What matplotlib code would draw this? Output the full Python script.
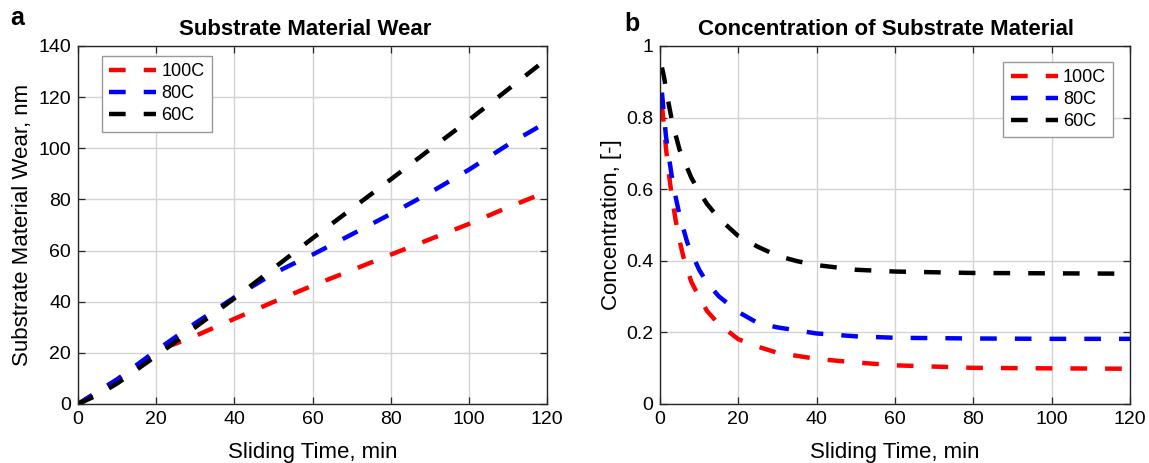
import matplotlib
matplotlib.use("Agg")
import matplotlib.pyplot as plt

plt.rcParams['font.family'] = ['Liberation Sans', 'DejaVu Sans']
plt.rcParams['lines.scale_dashes'] = False

# ---- Panel a: Substrate material wear ----
wear_t_100 = [0, 10, 20, 22, 25, 30, 34, 40, 50, 60, 70, 80, 90, 100, 110, 120]
wear_100 = [0, 9.6, 20.3, 22.0, 23.6, 26.6, 29.3, 33.3, 39.9, 46.3, 52.3, 58.4, 64.4, 70.4, 76.9, 83.0]
wear_t_80 = [0, 10, 20, 30, 40, 50, 57, 60, 70, 80, 90, 100, 110, 120]
wear_80 = [0, 9.6, 20.9, 31.6, 41.7, 51.0, 56.3, 58.4, 66.3, 74.3, 82.6, 91.6, 101.4, 110.3]
wear_t_60 = [0, 5, 10, 20, 30, 40, 50, 60, 70, 80, 90, 100, 110, 120]
wear_60 = [0, 3.5, 8.0, 18.8, 30.0, 41.3, 53.0, 64.8, 76.3, 87.8, 99.5, 111.0, 123.0, 135.0]

# ---- Panel b: Concentration of substrate material ----
conc_t_100 = [0.5, 1, 1.5, 2, 3, 4, 5, 6, 8, 10, 12, 15, 20, 25, 30, 40, 50, 60, 80, 100, 120]
conc_100 = [0.835, 0.778, 0.718, 0.666, 0.581, 0.513, 0.456, 0.41, 0.341, 0.299, 0.26, 0.223,
            0.181, 0.16, 0.143, 0.126, 0.116, 0.108, 0.101, 0.0995, 0.0985]
conc_t_80 = [0.5, 1, 1.5, 2, 3, 4, 5, 6, 7, 8, 10, 12, 15, 20, 25, 30, 40, 50, 60, 80, 100, 120]
conc_80 = [0.87, 0.81, 0.75, 0.71, 0.637, 0.578, 0.527, 0.488, 0.45, 0.423, 0.375, 0.339, 0.301,
           0.257, 0.226, 0.214, 0.197, 0.189, 0.185, 0.183, 0.182, 0.182]
conc_t_60 = [0.5, 1, 2, 3, 4, 5, 6, 8, 10, 12, 15, 20, 25, 30, 35, 40, 50, 60, 80, 100, 120]
conc_60 = [0.94, 0.915, 0.851, 0.794, 0.751, 0.71, 0.684, 0.632, 0.593, 0.559, 0.519, 0.469,
           0.439, 0.414, 0.399, 0.388, 0.375, 0.37, 0.366, 0.365, 0.364]

labels = ['100C', '80C', '60C']
colors = ['#ff0000', '#0000ff', '#000000']

W, H = 1149, 463
fig = plt.figure(figsize=(W / 100, H / 100), dpi=100)

def px_axes(x0, x1, y0, y1):
    return fig.add_axes([x0 / W, 1 - y1 / H, (x1 - x0) / W, (y1 - y0) / H])

axa = px_axes(78, 547, 46, 404)
axb = px_axes(660, 1130, 46, 404)

dash = (12, 13)
lw = 3.2

def style(ax):
    ax.grid(True, color='#d4d4d4', linewidth=1.0)
    ax.set_axisbelow(True)
    ax.tick_params(direction='in', top=True, right=True, labelsize=14, length=5,
                   width=0.9, pad=5, colors='#262626', labelcolor='black')
    for s in ax.spines.values():
        s.set_color('#262626')
        s.set_linewidth(1.0)
    ax.set_xlim(0, 120)
    ax.set_xticks([0, 20, 40, 60, 80, 100, 120])
    ax.set_xlabel('Sliding Time, min', fontsize=16, labelpad=10)

for t, y, c, l in zip([wear_t_100, wear_t_80, wear_t_60], [wear_100, wear_80, wear_60], colors, labels):
    axa.plot(t, y, color=c, linewidth=lw, linestyle=(0, dash), dash_capstyle='butt', label=l)
style(axa)
axa.set_ylim(0, 140)
axa.set_yticks(range(0, 141, 20))
axa.set_ylabel('Substrate Material Wear, nm', fontsize=16, labelpad=4)
axa.set_title('Substrate Material Wear', fontsize=16, fontweight='bold', x=0.485, pad=8)

for t, y, c, l in zip([conc_t_100, conc_t_80, conc_t_60], [conc_100, conc_80, conc_60], colors, labels):
    axb.plot(t, y, color=c, linewidth=lw, linestyle=(0, dash), dash_capstyle='butt', label=l)
style(axb)
axb.set_ylim(0, 1)
axb.set_yticks([0, 0.2, 0.4, 0.6, 0.8, 1])
axb.set_yticklabels(['0', '0.2', '0.4', '0.6', '0.8', '1'])
axb.set_ylabel('Concentration, [-]', fontsize=16, labelpad=3)
axb.set_title('Concentration of Substrate Material', fontsize=16, fontweight='bold', x=0.481, pad=8)

leg_kw = dict(fontsize=13, handlelength=2.6, handletextpad=0.3, labelspacing=0.28,
              borderpad=0.4, borderaxespad=0, fancybox=False, framealpha=1)
la = axa.legend(loc='upper left', bbox_to_anchor=(0.0505, 0.972), **leg_kw)
lb = axb.legend(loc='upper right', bbox_to_anchor=(0.9645, 0.956), **leg_kw)
for lg in (la, lb):
    lg.get_frame().set_edgecolor('#999999')
    lg.get_frame().set_linewidth(1.0)

fig.text(10 / W, 1 - 18 / H, 'a', fontsize=18, fontweight='bold', va='center', ha='left')
fig.text(624 / W, 1 - 24 / H, 'b', fontsize=18, fontweight='bold', va='center', ha='left')

fig.savefig('out.png', dpi=100)
